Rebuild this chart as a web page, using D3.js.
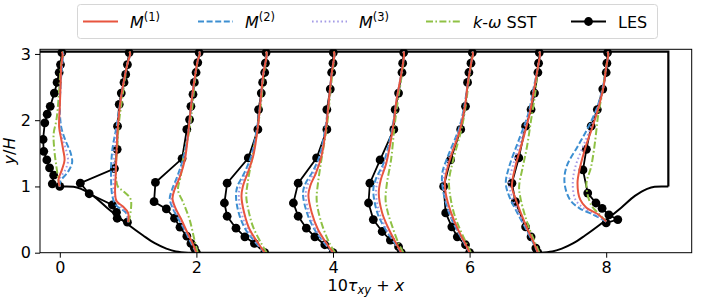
<!DOCTYPE html>
<html lang="en">
<head>
<meta charset="utf-8">
<title>Periodic hill shear stress profiles</title>
<script src="https://d3js.org/d3.v7.min.js"></script>
<style>
  body { margin: 0; background: #fff; }
  text { font-family: "DejaVu Sans", sans-serif; }
</style>
</head>
<body>
<script>
// ---- data (10*tau_xy offsets from each station, y/H) ----
const stations = [0, 1, 2, 3, 4, 5, 6, 7, 8];
const xTicks = [0, 2, 4, 6, 8];
const yTicks = [0, 1, 2, 3];

// hill shape (distance from crest, height)
const hillX = [0, 0.1, 0.2, 0.31, 0.49, 0.69, 0.97, 1.22, 1.39, 1.56, 1.70, 1.88];
const hillY = [1, 1, 0.994, 0.964, 0.857, 0.679, 0.448, 0.259, 0.143, 0.062, 0.018, 0];
const wallX = 8.91;
const topY = 3.036;

const les = [
  [[0.0,1.0],[-0.11,1.04],[-0.09,1.17],[-0.15,1.28],[-0.19,1.40],[-0.235,1.53],[-0.245,1.71],[-0.22,1.96],[-0.185,2.09],[-0.14,2.21],[-0.08,2.41],[-0.04,2.57],[-0.01,2.72],[0.01,2.84],[0.03,3.02]],
  [[-0.01,0.46],[-0.16,0.52],[-0.17,0.61],[-0.23,0.72],[-0.57,0.89],[-0.70,1.05],[-0.20,1.27],[-0.16,1.56],[-0.155,1.91],[-0.13,2.24],[-0.10,2.41],[-0.06,2.57],[-0.035,2.69],[-0.01,2.84],[0.015,3.02]],
  [[0.0,0.0],[-0.03,0.07],[-0.08,0.14],[-0.14,0.25],[-0.24,0.385],[-0.32,0.52],[-0.44,0.66],[-0.62,0.77],[-0.60,1.06],[-0.21,1.42],[-0.14,1.86],[-0.10,2.01],[-0.08,2.21],[-0.05,2.39],[-0.03,2.57],[-0.005,2.72],[0.02,2.87],[0.04,3.02]],
  [[0,0],[-0.15,0.14],[-0.29,0.24],[-0.42,0.37],[-0.55,0.55],[-0.59,0.75],[-0.55,1.05],[-0.24,1.43],[-0.10,1.86],[-0.09,2.16],[-0.05,2.41],[-0.03,2.57],[0.0,2.72],[0.01,2.86],[0.02,3.02]],
  [[0,0],[-0.12,0.12],[-0.265,0.24],[-0.39,0.37],[-0.51,0.55],[-0.58,0.75],[-0.51,1.05],[-0.24,1.43],[-0.09,1.86],[-0.09,2.16],[-0.04,2.47],[-0.02,2.72],[0.0,2.86],[0.005,3.02]],
  [[0,0],[-0.04,0.09],[-0.16,0.19],[-0.28,0.32],[-0.41,0.50],[-0.48,0.75],[-0.46,1.05],[-0.31,1.40],[-0.11,1.86],[-0.09,2.16],[-0.04,2.41],[0.01,2.72],[0.02,2.86],[0.035,3.02]],
  [[0,0],[-0.06,0.12],[-0.18,0.24],[-0.26,0.39],[-0.35,0.60],[-0.38,1.0],[-0.28,1.40],[-0.13,1.86],[-0.06,2.21],[-0.03,2.57],[-0.01,2.72],[0.02,2.86],[0.04,3.02]],
  [[0,0],[-0.03,0.07],[-0.10,0.24],[-0.18,0.39],[-0.33,0.77],[-0.38,1.05],[-0.28,1.43],[-0.18,1.91],[-0.10,2.16],[-0.05,2.41],[0.0,2.72],[0.01,2.86],[0.02,3.02]],
  [[0.0,0.45],[0.17,0.50],[0.04,0.57],[-0.06,0.67],[-0.15,0.75],[-0.27,0.90],[-0.34,1.25],[-0.29,1.56],[-0.22,1.91],[-0.13,2.16],[-0.05,2.47],[0.0,2.72],[0.01,2.86],[0.02,3.02]]
];

const m1 = [
  [[0,1.0],[-0.02,1.1],[0.03,1.25],[0.07,1.40],[0.05,1.55],[0.02,1.72],[-0.01,1.9],[0.0,2.2],[0.01,2.5],[0.02,2.8],[0.04,3.0],[0.03,3.036]],
  [[0,0.46],[0.0,0.6],[-0.08,0.70],[-0.17,0.78],[-0.19,0.9],[-0.18,1.2],[-0.17,1.5],[-0.15,1.9],[-0.11,2.3],[-0.06,2.6],[-0.01,2.85],[0.03,3.0],[0.02,3.036]],
  [[0,0],[-0.06,0.15],[-0.14,0.32],[-0.23,0.52],[-0.31,0.68],[-0.35,0.82],[-0.32,0.95],[-0.24,1.15],[-0.17,1.4],[-0.12,1.8],[-0.08,2.2],[-0.03,2.6],[0.02,2.9],[0.05,3.0],[0.04,3.036]],
  [[0,0],[-0.10,0.15],[-0.22,0.35],[-0.30,0.6],[-0.34,0.85],[-0.32,1.0],[-0.25,1.2],[-0.17,1.45],[-0.10,1.9],[-0.06,2.3],[-0.02,2.7],[0.03,3.0],[0.02,3.036]],
  [[0,0],[-0.10,0.15],[-0.22,0.35],[-0.31,0.6],[-0.36,0.87],[-0.33,1.02],[-0.25,1.2],[-0.17,1.45],[-0.10,1.9],[-0.06,2.3],[-0.02,2.7],[0.02,3.0],[0.01,3.036]],
  [[0,0],[-0.08,0.15],[-0.18,0.35],[-0.28,0.6],[-0.33,0.9],[-0.30,1.1],[-0.22,1.35],[-0.12,1.9],[-0.07,2.3],[0.0,2.7],[0.04,3.0],[0.03,3.036]],
  [[0,0],[-0.07,0.15],[-0.17,0.35],[-0.27,0.6],[-0.35,0.9],[-0.36,1.1],[-0.29,1.4],[-0.14,1.86],[-0.07,2.2],[-0.02,2.6],[0.03,2.9],[0.05,3.0],[0.04,3.036]],
  [[0,0],[-0.06,0.15],[-0.15,0.35],[-0.25,0.6],[-0.34,0.85],[-0.38,1.0],[-0.33,1.3],[-0.22,1.7],[-0.12,2.1],[-0.05,2.5],[0.0,2.8],[0.03,3.0],[0.02,3.036]],
  [[0,0.47],[-0.12,0.58],[-0.29,0.68],[-0.38,0.8],[-0.42,1.05],[-0.38,1.3],[-0.30,1.6],[-0.20,1.9],[-0.11,2.2],[-0.04,2.5],[0.0,2.8],[0.03,3.0],[0.02,3.036]]
];

const m2 = [
  [[0,1.0],[0.01,1.08],[0.12,1.22],[0.18,1.36],[0.16,1.5],[0.08,1.7],[0.02,1.9],[0.0,2.2],[0.01,2.5],[0.03,2.8],[0.05,3.0],[0.04,3.036]],
  [[0,0.46],[-0.03,0.6],[-0.18,0.72],[-0.23,0.85],[-0.25,1.2],[-0.23,1.56],[-0.17,1.9],[-0.11,2.3],[-0.06,2.6],[-0.01,2.85],[0.03,3.0],[0.02,3.036]],
  [[0,0],[-0.08,0.15],[-0.16,0.32],[-0.27,0.52],[-0.35,0.68],[-0.39,0.82],[-0.35,0.97],[-0.28,1.15],[-0.20,1.4],[-0.12,1.8],[-0.08,2.2],[-0.03,2.6],[0.02,2.9],[0.05,3.0],[0.04,3.036]],
  [[0,0],[-0.13,0.15],[-0.28,0.35],[-0.38,0.6],[-0.42,0.85],[-0.40,1.0],[-0.30,1.2],[-0.20,1.45],[-0.11,1.9],[-0.06,2.3],[-0.02,2.7],[0.03,3.0],[0.02,3.036]],
  [[0,0],[-0.13,0.15],[-0.27,0.35],[-0.38,0.6],[-0.44,0.9],[-0.40,1.05],[-0.30,1.22],[-0.20,1.45],[-0.11,1.9],[-0.06,2.3],[-0.02,2.7],[0.02,3.0],[0.01,3.036]],
  [[0,0],[-0.10,0.15],[-0.23,0.35],[-0.35,0.6],[-0.41,0.95],[-0.37,1.12],[-0.26,1.35],[-0.13,1.9],[-0.07,2.3],[0.0,2.7],[0.04,3.0],[0.03,3.036]],
  [[0,0],[-0.08,0.15],[-0.19,0.35],[-0.30,0.6],[-0.39,0.95],[-0.40,1.2],[-0.32,1.45],[-0.16,1.86],[-0.08,2.2],[-0.02,2.6],[0.03,2.9],[0.05,3.0],[0.04,3.036]],
  [[0,0],[-0.07,0.15],[-0.17,0.35],[-0.30,0.6],[-0.42,0.85],[-0.47,1.05],[-0.42,1.3],[-0.28,1.7],[-0.14,2.1],[-0.06,2.5],[0.0,2.8],[0.03,3.0],[0.02,3.036]],
  [[0,0.47],[-0.20,0.58],[-0.39,0.67],[-0.53,0.8],[-0.61,1.05],[-0.58,1.3],[-0.42,1.6],[-0.26,1.9],[-0.13,2.2],[-0.05,2.5],[0.0,2.8],[0.03,3.0],[0.02,3.036]]
];

const m3 = [
  [[0,1.0],[-0.01,1.1],[0.08,1.25],[0.12,1.38],[0.10,1.52],[0.04,1.72],[0.0,1.9],[0.0,2.2],[0.01,2.5],[0.03,2.8],[0.05,3.0],[0.04,3.036]],
  [[0,0.46],[-0.02,0.6],[-0.13,0.72],[-0.20,0.85],[-0.21,1.2],[-0.20,1.56],[-0.16,1.9],[-0.11,2.3],[-0.06,2.6],[-0.01,2.85],[0.03,3.0],[0.02,3.036]],
  [[0,0],[-0.07,0.15],[-0.15,0.32],[-0.25,0.52],[-0.33,0.68],[-0.37,0.82],[-0.33,0.96],[-0.26,1.15],[-0.18,1.4],[-0.12,1.8],[-0.08,2.2],[-0.03,2.6],[0.02,2.9],[0.05,3.0],[0.04,3.036]],
  [[0,0],[-0.12,0.15],[-0.25,0.35],[-0.34,0.6],[-0.38,0.85],[-0.36,1.0],[-0.27,1.2],[-0.18,1.45],[-0.10,1.9],[-0.06,2.3],[-0.02,2.7],[0.03,3.0],[0.02,3.036]],
  [[0,0],[-0.12,0.15],[-0.25,0.35],[-0.35,0.6],[-0.40,0.88],[-0.37,1.03],[-0.28,1.21],[-0.18,1.45],[-0.10,1.9],[-0.06,2.3],[-0.02,2.7],[0.02,3.0],[0.01,3.036]],
  [[0,0],[-0.09,0.15],[-0.21,0.35],[-0.32,0.6],[-0.37,0.92],[-0.34,1.1],[-0.24,1.35],[-0.12,1.9],[-0.07,2.3],[0.0,2.7],[0.04,3.0],[0.03,3.036]],
  [[0,0],[-0.08,0.15],[-0.18,0.35],[-0.29,0.6],[-0.37,0.92],[-0.38,1.15],[-0.30,1.42],[-0.15,1.86],[-0.07,2.2],[-0.02,2.6],[0.03,2.9],[0.05,3.0],[0.04,3.036]],
  [[0,0],[-0.06,0.15],[-0.16,0.35],[-0.28,0.6],[-0.38,0.85],[-0.42,1.05],[-0.37,1.3],[-0.25,1.7],[-0.13,2.1],[-0.05,2.5],[0.0,2.8],[0.03,3.0],[0.02,3.036]],
  [[0,0.47],[-0.16,0.58],[-0.34,0.68],[-0.45,0.8],[-0.49,1.05],[-0.45,1.3],[-0.34,1.6],[-0.22,1.9],[-0.12,2.2],[-0.04,2.5],[0.0,2.8],[0.03,3.0],[0.02,3.036]]
];

const sst = [
  [[0,1.0],[-0.02,1.1],[-0.05,1.3],[-0.08,1.55],[-0.09,1.8],[-0.05,2.0],[-0.02,2.3],[0.0,2.6],[0.02,2.85],[0.05,3.0],[0.04,3.036]],
  [[0.01,0.46],[0.04,0.8],[-0.06,0.92],[-0.15,1.0],[-0.18,1.2],[-0.16,1.6],[-0.13,2.0],[-0.09,2.3],[-0.05,2.6],[-0.01,2.85],[0.03,3.0],[0.02,3.036]],
  [[0.02,0],[-0.03,0.2],[-0.10,0.5],[-0.19,0.75],[-0.27,0.95],[-0.23,1.15],[-0.19,1.45],[-0.11,1.8],[-0.06,2.2],[-0.02,2.6],[0.02,2.9],[0.05,3.0],[0.04,3.036]],
  [[0.03,0],[-0.05,0.14],[-0.17,0.39],[-0.24,0.65],[-0.27,0.85],[-0.25,1.05],[-0.19,1.4],[-0.10,1.9],[-0.05,2.3],[-0.01,2.7],[0.03,3.0],[0.02,3.036]],
  [[0.03,0],[-0.05,0.14],[-0.15,0.39],[-0.22,0.65],[-0.24,0.82],[-0.22,1.05],[-0.17,1.4],[-0.09,1.9],[-0.05,2.3],[-0.01,2.7],[0.02,3.0],[0.01,3.036]],
  [[0.03,0],[-0.04,0.14],[-0.13,0.39],[-0.20,0.62],[-0.23,0.8],[-0.21,1.05],[-0.15,1.4],[-0.10,1.9],[-0.05,2.3],[0.01,2.7],[0.04,3.0],[0.03,3.036]],
  [[0.02,0],[-0.05,0.15],[-0.14,0.35],[-0.23,0.6],[-0.29,0.9],[-0.30,1.1],[-0.24,1.4],[-0.12,1.86],[-0.06,2.2],[-0.01,2.6],[0.03,2.9],[0.05,3.0],[0.04,3.036]],
  [[0.02,0],[-0.04,0.15],[-0.12,0.35],[-0.20,0.6],[-0.26,0.85],[-0.275,1.0],[-0.22,1.3],[-0.16,1.6],[-0.10,2.0],[-0.04,2.4],[0.0,2.8],[0.03,3.0],[0.02,3.036]],
  [[0,0.47],[-0.10,0.58],[-0.22,0.72],[-0.29,1.03],[-0.22,1.30],[-0.16,1.7],[-0.12,2.06],[-0.06,2.4],[-0.01,2.75],[0.03,3.0],[0.02,3.036]]
];

const colors = { M1: "#e8553f", M2: "#3d8fd1", M3: "#a49be6", SST: "#8fc145", LES: "#000000" };
const dashes = { M1: null, M2: "6,2.6", M3: "1.6,2.6", SST: "7,2.4,1.6,2.4", LES: null };

// ---- layout ----
const W = 706, H = 300;
const plot = { left: 40, right: 691.7, top: 49.3, bottom: 252.7 };

const svg = d3.select("body").append("svg")
  .attr("width", W).attr("height", H);
svg.append("rect").attr("width", W).attr("height", H).attr("fill", "white");

const x = d3.scaleLinear().domain([-0.29, 9.252]).range([plot.left, plot.right]);
const y = d3.scaleLinear().domain([0, 3.07]).range([plot.bottom, plot.top]);

svg.append("clipPath").attr("id", "clip").append("rect")
  .attr("x", plot.left).attr("y", plot.top)
  .attr("width", plot.right - plot.left).attr("height", plot.bottom - plot.top);

const g = svg.append("g").attr("clip-path", "url(#clip)");

// domain outline
const straight = d3.line().x(d => x(d[0])).y(d => y(d[1]));
const smooth = d3.line().x(d => x(d[0])).y(d => y(d[1])).curve(d3.curveMonotoneX);
const leftHill = hillX.map((v, i) => [v, hillY[i]]);
const rightHill = hillX.map((v, i) => [wallX - v, hillY[i]]).reverse();

g.append("path").attr("d", smooth(leftHill))
  .attr("fill", "none").attr("stroke", "black").attr("stroke-width", 2);
g.append("path").attr("d", smooth(rightHill))
  .attr("fill", "none").attr("stroke", "black").attr("stroke-width", 2);
g.append("path")
  .attr("d", straight([[hillX[hillX.length - 1], 0], [wallX - hillX[hillX.length - 1], 0]]))
  .attr("fill", "none").attr("stroke", "black").attr("stroke-width", 2);
g.append("path")
  .attr("d", straight([[wallX, 1], [wallX, topY], [x.domain()[0], topY]]))
  .attr("fill", "none").attr("stroke", "black").attr("stroke-width", 2.2);

// profiles
const profLine = d3.line()
  .x(d => x(d[0]))
  .y(d => y(d[1]))
  .curve(d3.curveCatmullRom.alpha(0.5));

function shift(arr, s) { return arr.map(p => [p[0] + s, p[1]]); }

stations.forEach((s, i) => {
  const pts = shift(les[i], s);
  g.append("path").attr("d", straight(pts))
    .attr("fill", "none").attr("stroke", "black").attr("stroke-width", 1.8);
  g.selectAll(null).data(pts).enter().append("circle")
    .attr("cx", d => x(d[0])).attr("cy", d => y(d[1]))
    .attr("r", 4.4).attr("fill", "black");
});

const modelData = { SST: sst, M2: m2, M3: m3, M1: m1 };
["SST", "M2", "M3", "M1"].forEach(name => {
  stations.forEach((s, i) => {
    g.append("path").attr("d", profLine(shift(modelData[name][i], s)))
      .attr("fill", "none")
      .attr("stroke", colors[name])
      .attr("stroke-width", 2)
      .attr("stroke-dasharray", dashes[name]);
  });
});

// axes
const xAxis = svg.append("g")
  .attr("transform", "translate(0," + plot.bottom + ")")
  .call(d3.axisBottom(x).tickValues(xTicks).tickSize(5).tickPadding(4).tickFormat(d3.format("d")));
const yAxis = svg.append("g")
  .attr("transform", "translate(" + plot.left + ",0)")
  .call(d3.axisLeft(y).tickValues(yTicks).tickSize(5).tickPadding(4).tickFormat(d3.format("d")));
[xAxis, yAxis].forEach(a => {
  a.select(".domain").remove();
  a.selectAll("text").attr("font-size", 16).attr("font-family", "DejaVu Sans").attr("fill", "black");
  a.selectAll("line").attr("stroke", "black").attr("stroke-width", 1);
});

svg.append("rect")
  .attr("x", plot.left).attr("y", plot.top)
  .attr("width", plot.right - plot.left).attr("height", plot.bottom - plot.top)
  .attr("fill", "none").attr("stroke", "black").attr("stroke-width", 1);

// axis labels
const xl = svg.append("text")
  .attr("x", (plot.left + plot.right) / 2).attr("y", 291)
  .attr("text-anchor", "middle").attr("font-size", 16);
xl.append("tspan").text("10");
xl.append("tspan").attr("font-style", "italic").text("τ");
xl.append("tspan").attr("font-style", "italic").attr("font-size", 11.5).attr("dy", 3).text("xy");
xl.append("tspan").attr("dy", -3).text(" + ");
xl.append("tspan").attr("font-style", "italic").text("x");

const yl = svg.append("text")
  .attr("transform", "translate(15," + ((plot.top + plot.bottom) / 2) + ") rotate(-90)")
  .attr("text-anchor", "middle").attr("font-size", 16);
yl.append("tspan").attr("font-style", "italic").text("y");
yl.append("tspan").text("/");
yl.append("tspan").attr("font-style", "italic").text("H");

// legend
const leg = svg.append("g");
leg.append("rect")
  .attr("x", 77.5).attr("y", 4.5).attr("width", 580).attr("height", 34)
  .attr("rx", 3).attr("fill", "white").attr("stroke", "#d6d6d6").attr("stroke-width", 1);

const legendItems = [
  { key: "M1", x: 83, sup: "(1)" },
  { key: "M2", x: 198, sup: "(2)" },
  { key: "M3", x: 312, sup: "(3)" },
  { key: "SST", x: 426 },
  { key: "LES", x: 571 }
];
const legY = 21.5;
legendItems.forEach(it => {
  leg.append("line")
    .attr("x1", it.x).attr("x2", it.x + 35).attr("y1", legY).attr("y2", legY)
    .attr("stroke", colors[it.key]).attr("stroke-width", 2)
    .attr("stroke-dasharray", dashes[it.key]);
  if (it.key === "LES") {
    leg.append("circle").attr("cx", it.x + 17.5).attr("cy", legY).attr("r", 4.4).attr("fill", "black");
  }
  const t = leg.append("text").attr("x", it.x + 47).attr("y", legY + 6).attr("font-size", 16);
  if (it.sup) {
    t.append("tspan").attr("font-style", "italic").text("M");
    t.append("tspan").attr("font-size", 11.5).attr("dy", -7).text(it.sup);
  } else if (it.key === "SST") {
    t.append("tspan").attr("font-style", "italic").text("k");
    t.append("tspan").text("-");
    t.append("tspan").attr("font-style", "italic").text("ω");
    t.append("tspan").text(" SST");
  } else {
    t.text("LES");
  }
});
</script>
</body>
</html>
